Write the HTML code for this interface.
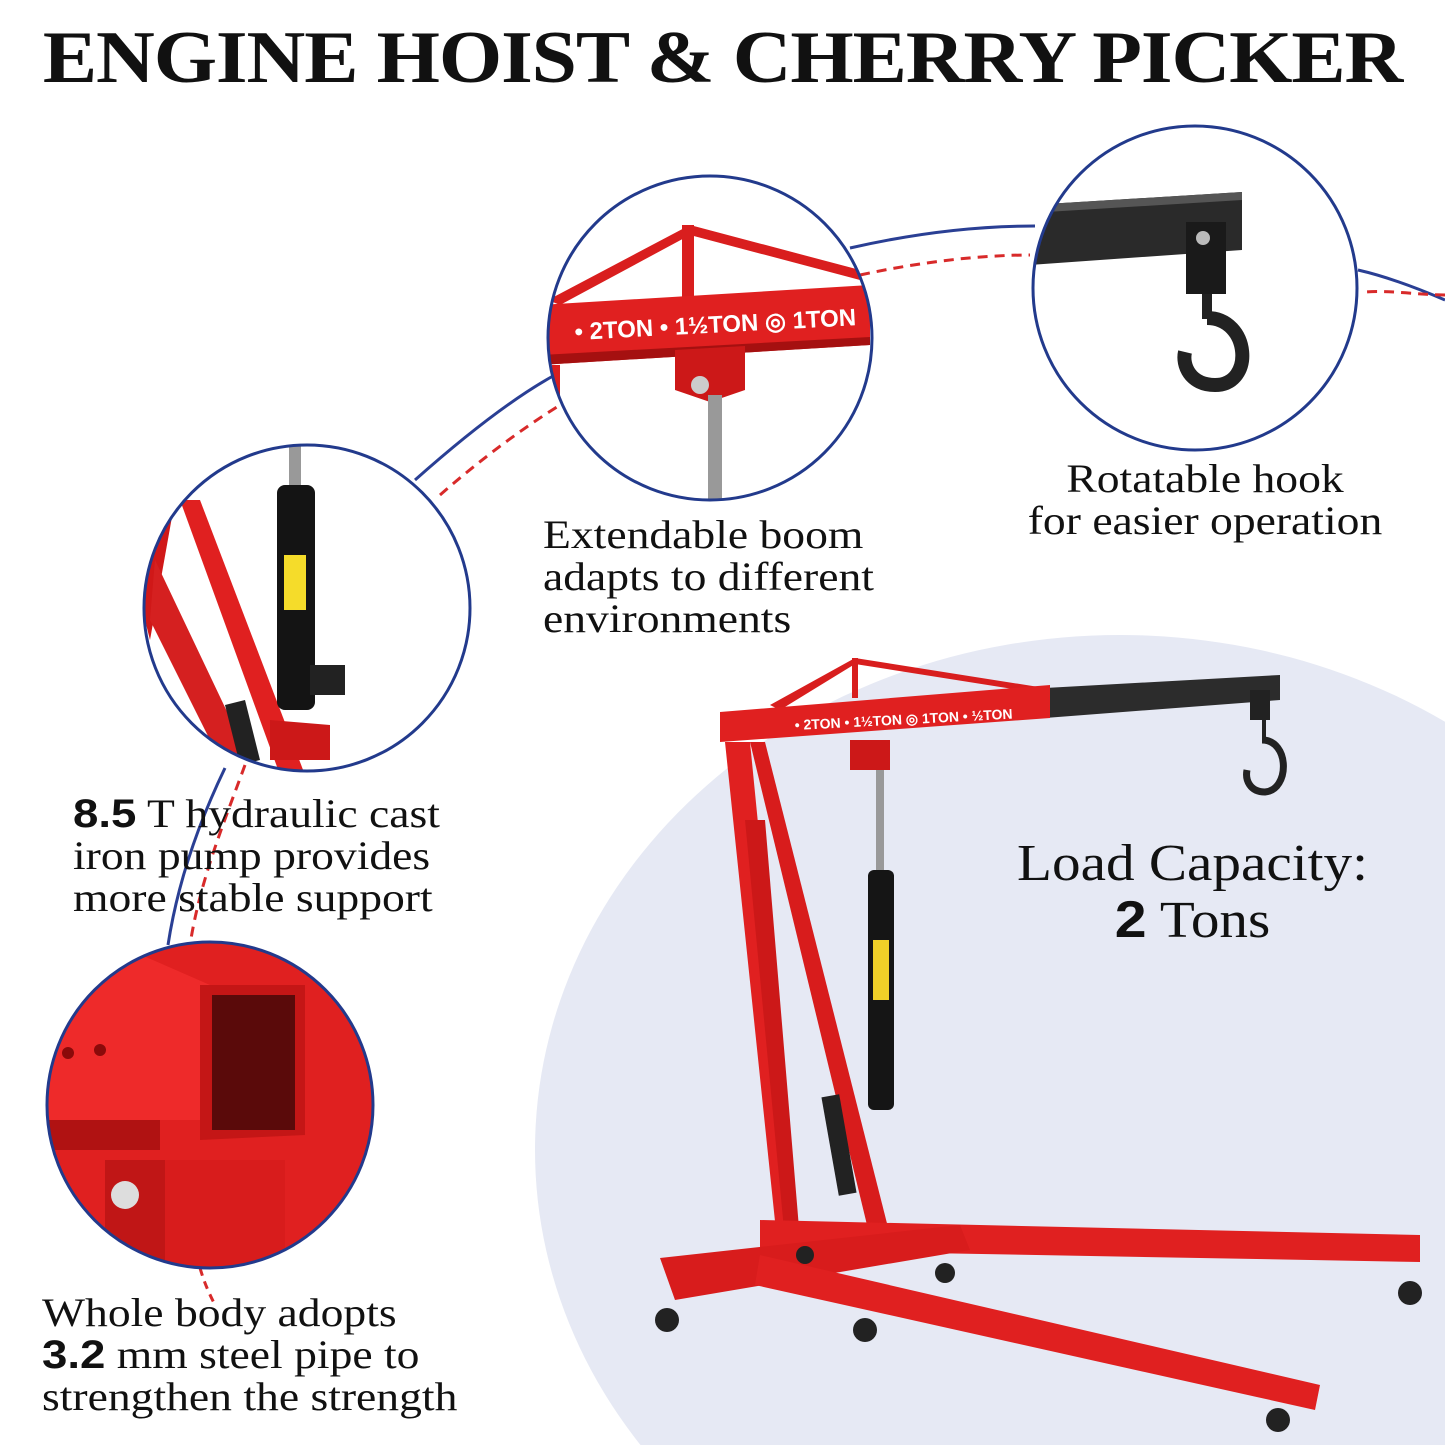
<!DOCTYPE html>
<html><head><meta charset="utf-8">
<style>
html,body{margin:0;padding:0;background:#fff;width:1445px;height:1445px;overflow:hidden;}
.wrap{position:relative;width:1445px;height:1445px;overflow:hidden;font-family:"Liberation Serif",serif;color:#111;}
.t{position:absolute;font-size:40px;line-height:42px;white-space:nowrap;transform:scaleX(1.14);transform-origin:0 0;}
b.s{font-family:"Liberation Sans",sans-serif;font-weight:bold;}
h1{position:absolute;left:0;width:1445px;top:16px;margin:0;text-align:center;font-family:"Liberation Serif",serif;font-weight:900;font-size:74px;letter-spacing:-1px;transform:scaleX(1.1);transform-origin:722px 0;}
</style></head><body>
<div class="wrap">
<svg width="1445" height="1445" style="position:absolute;left:0;top:0">
<defs>
<clipPath id="c1"><circle cx="710" cy="338" r="162"/></clipPath>
<clipPath id="c2"><circle cx="1195" cy="288" r="162"/></clipPath>
<clipPath id="c3"><circle cx="307" cy="608" r="163"/></clipPath>
<clipPath id="c4"><circle cx="210" cy="1105" r="163"/></clipPath>
</defs>
<ellipse cx="1120" cy="1150" rx="585" ry="515" fill="#e6e9f4"/>
<path d="M1445,300 C1410,285 1380,275 1358,270" stroke="#2a3f94" stroke-width="3" fill="none"/>
<path d="M1445,295 C1420,295 1390,290 1365,292" stroke="#d82a2a" stroke-width="3" stroke-dasharray="10,7" fill="none"/>
<path d="M850,248 C920,232 980,226 1035,226" stroke="#2a3f94" stroke-width="3" fill="none"/>
<path d="M860,275 C920,262 980,255 1030,255" stroke="#d82a2a" stroke-width="3" stroke-dasharray="10,7" fill="none"/>
<path d="M415,480 C460,440 510,400 553,376" stroke="#2a3f94" stroke-width="3" fill="none"/>
<path d="M440,495 C480,460 520,430 560,405" stroke="#d82a2a" stroke-width="3" stroke-dasharray="10,7" fill="none"/>
<path d="M225,768 C200,820 178,880 168,945" stroke="#2a3f94" stroke-width="3" fill="none"/>
<path d="M245,765 C225,820 200,880 190,945" stroke="#d82a2a" stroke-width="3" stroke-dasharray="10,7" fill="none"/>
<path d="M200,1268 C205,1285 210,1295 215,1305" stroke="#d82a2a" stroke-width="3" stroke-dasharray="8,6" fill="none"/>

<g clip-path="url(#c1)">
<rect x="540" y="170" width="340" height="340" fill="#fff"/>
<polygon points="548,300 690,225 860,270 860,280 690,235 560,305" fill="#d91e1e"/>
<rect x="682" y="225" width="12" height="80" fill="#d91e1e"/>
<polygon points="540,305 870,285 870,345 540,365" fill="#e02020"/>
<polygon points="540,355 870,337 870,345 540,365" fill="#a51010"/>
<text x="575" y="340" fill="#fff" font-family="Liberation Sans,sans-serif" font-weight="bold" font-size="24" transform="rotate(-3 575 340)">• 2TON  • 1½TON  ◎ 1TON</text>
<polygon points="675,350 745,346 745,390 710,402 675,390" fill="#cc1818"/>
<circle cx="700" cy="385" r="9" fill="#ccc"/>
<rect x="708" y="395" width="14" height="110" fill="#999"/>
<rect x="552" y="365" width="8" height="150" fill="#d91e1e"/>
</g>
<circle cx="710" cy="338" r="162" fill="none" stroke="#223a8c" stroke-width="3"/>

<g clip-path="url(#c2)">
<polygon points="1030,205 1242,192 1242,250 1030,265" fill="#2a2a2a"/>
<polygon points="1030,205 1242,192 1242,200 1030,213" fill="#555"/>
<rect x="1186" y="222" width="40" height="72" fill="#1a1a1a"/>
<circle cx="1203" cy="238" r="7" fill="#bbb"/>
<rect x="1202" y="294" width="10" height="25" fill="#222"/>
<path d="M1207,318 C1250,318 1255,385 1215,385 C1190,385 1182,365 1185,352" stroke="#222" stroke-width="14" fill="none"/>
</g>
<circle cx="1195" cy="288" r="162" fill="none" stroke="#223a8c" stroke-width="3"/>

<g clip-path="url(#c3)">
<polygon points="180,500 200,500 305,775 280,775" fill="#e02020"/>
<polygon points="140,600 165,500 175,500 150,640" fill="#d01818"/>
<polygon points="155,560 250,760 225,770 150,620" fill="#d52020"/>
<rect x="289" y="445" width="12" height="50" fill="#999"/>
<rect x="277" y="485" width="38" height="225" rx="8" fill="#141414"/>
<rect x="284" y="555" width="22" height="55" fill="#f5dc2a"/>
<rect x="310" y="665" width="35" height="30" fill="#222"/>
<polygon points="225,705 245,700 260,760 240,765" fill="#222"/>
<polygon points="270,720 330,725 330,760 270,760" fill="#cc1818"/>
</g>
<circle cx="307" cy="608" r="163" fill="none" stroke="#223a8c" stroke-width="3"/>

<g clip-path="url(#c4)">
<rect x="40" y="940" width="340" height="330" fill="#e02020"/>
<polygon points="40,960 130,950 210,985 210,1120 40,1120" fill="#ee2a2a"/>
<polygon points="200,985 305,985 305,1135 200,1140" fill="#c41616"/>
<polygon points="212,995 295,995 295,1130 212,1130" fill="#5a0a0a"/>
<rect x="40" y="1120" width="120" height="30" fill="#b01212"/>
<rect x="105" y="1160" width="180" height="110" fill="#d81c1c"/>
<rect x="105" y="1160" width="60" height="110" fill="#c01616"/>
<circle cx="125" cy="1195" r="14" fill="#ddd"/>
<circle cx="68" cy="1053" r="6" fill="#8a0a0a"/>
<circle cx="100" cy="1050" r="6" fill="#8a0a0a"/>
</g>
<circle cx="210" cy="1105" r="163" fill="none" stroke="#223a8c" stroke-width="3"/>

<g>
<polygon points="770,705 855,658 1045,688 1045,694 855,664 780,710" fill="#d81e1e"/>
<rect x="852" y="658" width="6" height="40" fill="#d81e1e"/>
<polygon points="1045,688 1280,675 1280,700 1045,718" fill="#2c2c2c"/>
<rect x="1250" y="690" width="20" height="30" fill="#222"/>
<path d="M1262,740 C1290,740 1290,790 1265,792 C1250,792 1245,780 1247,770" stroke="#222" stroke-width="7" fill="none"/>
<rect x="1262" y="720" width="4" height="22" fill="#222"/>
<polygon points="720,712 1050,685 1050,718 720,742" fill="#e02020"/>
<text x="795" y="730" fill="#fff" font-family="Liberation Sans,sans-serif" font-weight="bold" font-size="14" transform="rotate(-3 795 730)">• 2TON   • 1½TON   ◎ 1TON   • ½TON</text>
<rect x="850" y="740" width="40" height="30" fill="#cc1818"/>
<rect x="876" y="770" width="8" height="110" fill="#999"/>
<rect x="868" y="870" width="26" height="240" rx="6" fill="#151515"/>
<rect x="873" y="940" width="16" height="60" fill="#f0d028"/>
<polygon points="725,742 750,742 800,1250 778,1250" fill="#e02020"/>
<polygon points="750,742 765,742 895,1255 875,1258" fill="#d81c1c"/>
<polygon points="745,820 765,820 800,1240 785,1240" fill="#cc1818"/>
<polygon points="760,1220 1420,1235 1420,1262 760,1250" fill="#e02020"/>
<polygon points="660,1258 960,1225 970,1250 675,1300" fill="#d81c1c"/>
<polygon points="760,1255 1320,1385 1315,1410 755,1285" fill="#e02020"/>
<rect x="830" y="1095" width="18" height="100" fill="#222" transform="rotate(-10 839 1145)"/>
<circle cx="667" cy="1320" r="12" fill="#222"/><circle cx="865" cy="1330" r="12" fill="#222"/>
<circle cx="1278" cy="1420" r="12" fill="#222"/><circle cx="1410" cy="1293" r="12" fill="#222"/>
<circle cx="945" cy="1273" r="10" fill="#222"/><circle cx="805" cy="1255" r="9" fill="#222"/>
</g>
</svg>
<h1>ENGINE HOIST &amp; CHERRY PICKER</h1>
<div class="t" style="left:543px;top:514px">Extendable boom<br>adapts to different<br>environments</div>
<div class="t" style="left:1020px;top:458px;width:370px;text-align:center;transform-origin:185px 0">Rotatable hook<br>for easier operation</div>
<div class="t" style="left:73px;top:793px"><b class="s">8.5</b> T hydraulic cast<br>iron pump provides<br>more stable support</div>
<div class="t" style="left:42px;top:1292px">Whole body adopts<br><b class="s">3.2</b> mm steel pipe to<br>strengthen the strength</div>
<div class="t" style="left:990px;top:836px;width:405px;text-align:center;font-size:52px;line-height:56px;transform:scaleX(1.1);transform-origin:202px 0">Load Capacity:<br><b class="s">2</b> Tons</div>
</div>
</body></html>
